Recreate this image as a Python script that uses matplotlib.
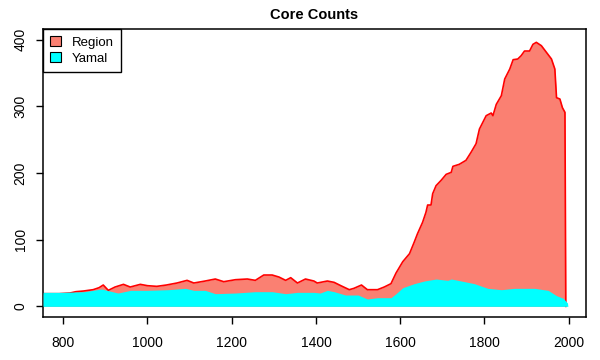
import matplotlib

matplotlib.use('Agg')
import matplotlib.pyplot as plt
from matplotlib.patches import Patch

plt.rcParams['font.family'] = ['Liberation Sans', 'DejaVu Sans']

# Region core counts (year, count)
region_years = [752, 790, 816, 830, 848, 871, 885, 895, 907, 923, 943, 959, 983, 1000,
                1022, 1045, 1070, 1094, 1110, 1137, 1161, 1181, 1209, 1237, 1256, 1276,
                1296, 1312, 1328, 1340, 1356, 1375, 1395, 1403, 1427, 1443, 1459, 1479,
                1490, 1508, 1522, 1546, 1562, 1578, 1590, 1606, 1622, 1633, 1641, 1653,
                1661, 1665, 1673, 1677, 1685, 1697, 1709, 1721, 1725, 1740, 1756, 1768,
                1780, 1788, 1796, 1804, 1816, 1820, 1828, 1840, 1848, 1860, 1868, 1879,
                1887, 1895, 1907, 1915, 1923, 1935, 1947, 1959, 1967, 1971, 1979, 1985,
                1991, 1993]
region_counts = [19, 19, 20, 22, 23, 25, 28, 32, 24, 29, 33, 29, 33, 31,
                 30, 32, 35, 39, 35, 38, 41, 37, 40, 41, 39, 47,
                 47, 44, 39, 43, 35, 41, 38, 35, 38, 36, 31, 25,
                 27, 32, 25, 25, 29, 34, 50, 67, 79, 96, 109, 126,
                 141, 152, 152, 169, 181, 189, 198, 201, 210, 213, 219, 231,
                 244, 266, 276, 286, 290, 286, 303, 316, 341, 356, 370, 371,
                 376, 383, 383, 393, 396, 391, 381, 371, 356, 313, 311, 298,
                 291, 0]

# Yamal core counts (year, count)
yamal_years = [752, 800, 850, 891, 910, 930, 960, 1000, 1050, 1090, 1110, 1137, 1161,
               1209, 1256, 1296, 1328, 1356, 1395, 1410, 1427, 1443, 1470, 1500, 1522,
               1546, 1578, 1590, 1606, 1633, 1657, 1685, 1713, 1721, 1745, 1776, 1808,
               1840, 1871, 1919, 1951, 1971, 1987, 1997, 1998]
yamal_counts = [21, 21, 22, 26, 23, 20, 24, 24, 25, 27, 24, 24, 19,
                20, 22, 22, 19, 21, 21, 20, 24, 22, 17, 17, 11,
                13, 13, 19, 28, 34, 38, 41, 39, 41, 38, 34, 27,
                25, 27, 27, 24, 16, 12, 5, 0]

fig = plt.figure(figsize=(6, 3.6), dpi=100)
ax = fig.add_axes([0.0717, 0.1194, 0.905, 0.80])

ax.fill_between(region_years, region_counts, 0, color='salmon', linewidth=0, zorder=1)
ax.plot(region_years, region_counts, color='red', lw=1.2, zorder=2)
ax.fill_between(yamal_years, yamal_counts, 0, color='cyan', linewidth=0, zorder=3)

ax.set_xlim(752, 2041)
ax.set_ylim(-16, 416)
ax.set_xticks([800, 1000, 1200, 1400, 1600, 1800, 2000])
ax.set_yticks([0, 100, 200, 300, 400])
ax.tick_params(axis='x', length=5, width=1, labelsize=10, pad=8.5)
ax.tick_params(axis='y', length=5, width=1, labelsize=10, pad=6)
for lbl in ax.get_yticklabels():
    lbl.set_rotation(90)
    lbl.set_va('center')
for s in ax.spines.values():
    s.set_linewidth(1.1)

ax.set_title('Core Counts', fontsize=10.5, fontweight='bold', pad=7)
# y label sits mostly off the left edge, as in the original
fig.text(0.004, 0.528, 'Count', rotation=90, ha='right', va='center',
         color='cyan', fontsize=10)

handles = [Patch(facecolor='salmon', edgecolor='black', lw=0.8),
           Patch(facecolor='cyan', edgecolor='black', lw=0.8)]
leg = ax.legend(handles, ['Region', 'Yamal'], loc='upper left', fontsize=9.5,
                fancybox=False, framealpha=1, edgecolor='black',
                borderaxespad=0, handlelength=0.8, handleheight=0.8,
                handletextpad=0.8, labelspacing=0.25, borderpad=0.55)
leg.get_frame().set_linewidth(1.0)
leg.set_zorder(5)

fig.savefig('out.png', dpi=100)
